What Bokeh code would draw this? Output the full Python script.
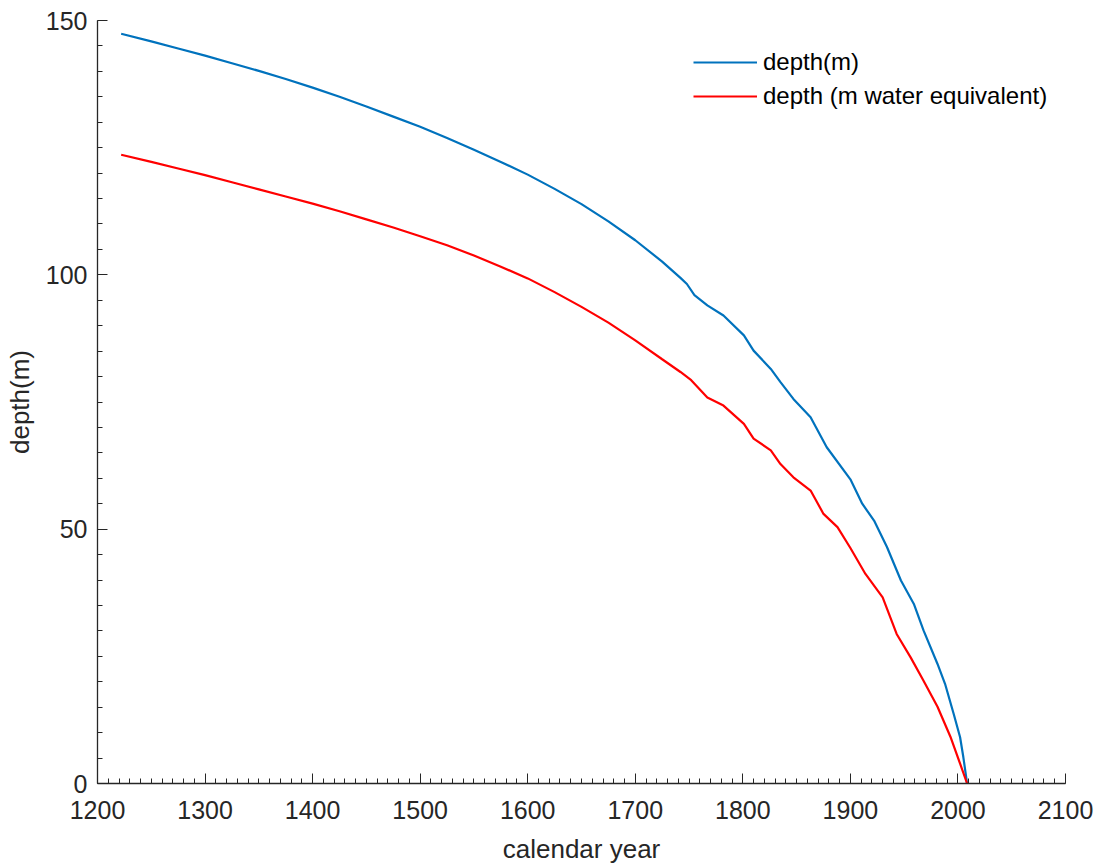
from bokeh.plotting import figure
from bokeh.models import SingleIntervalTicker, Range1d, Legend, LegendItem
from bokeh.embed import file_html
from bokeh.resources import INLINE

# Depth-age relation: ice depth and water-equivalent depth vs calendar year
year_m = [1222, 1250, 1275, 1300, 1325, 1350, 1375, 1400, 1425, 1450, 1475,
          1500, 1525, 1550, 1575, 1600, 1625, 1650, 1675, 1700, 1725, 1742,
          1748, 1755, 1767, 1782, 1801, 1810, 1826, 1835, 1847, 1863, 1878,
          1900, 1911, 1922, 1934, 1947, 1959, 1968, 1981, 1988, 1996, 2002,
          2005, 2008.5]
depth_m = [147.4, 145.9, 144.5, 143.1, 141.6, 140.1, 138.5, 136.8, 135.0,
           133.1, 131.1, 129.1, 126.9, 124.6, 122.2, 119.7, 116.9, 113.9,
           110.5, 106.8, 102.6, 99.4, 98.2, 96.0, 94.0, 92.0, 88.1, 85.1,
           81.5, 78.9, 75.6, 72.0, 66.1, 59.8, 55.0, 51.7, 46.5, 39.9, 35.3,
           30.1, 23.5, 19.6, 13.7, 9.1, 5.2, 0.0]

year_we = [1222, 1250, 1275, 1300, 1325, 1350, 1375, 1400, 1425, 1450, 1475,
           1500, 1525, 1550, 1575, 1600, 1625, 1650, 1675, 1700, 1725, 1742,
           1752, 1767, 1782, 1801, 1810, 1826, 1835, 1847, 1863, 1875, 1888,
           1900, 1914, 1930, 1943, 1956, 1968, 1981, 1993, 2002, 2008.5]
depth_we = [123.6, 122.2, 120.9, 119.6, 118.2, 116.8, 115.4, 114.0, 112.5,
            110.9, 109.3, 107.6, 105.8, 103.8, 101.6, 99.3, 96.6, 93.7, 90.6,
            87.1, 83.4, 80.9, 79.3, 75.9, 74.3, 70.7, 67.8, 65.5, 62.8, 60.2,
            57.6, 53.0, 50.4, 46.3, 41.2, 36.6, 29.4, 24.8, 20.2, 15.1, 9.2,
            3.9, 0.0]

series_labels = ["depth(m)", "depth (m water equivalent)"]

FONT = "Liberation Sans"
AX = "#262626"

p = figure(width=1101, height=867, output_backend="svg", toolbar_location=None,
           x_range=Range1d(1200, 2100), y_range=Range1d(0, 150),
           min_border_left=97, min_border_right=36, min_border_top=20,
           min_border_bottom=84)
p.outline_line_color = None
p.xgrid.grid_line_color = None
p.ygrid.grid_line_color = None

r1 = p.line(year_m, depth_m, line_color="#0072BD", line_width=2.2)
r2 = p.line(year_we, depth_we, line_color="#FF0000", line_width=2.2)

p.xaxis.ticker = SingleIntervalTicker(interval=100, num_minor_ticks=10)
p.yaxis.ticker = SingleIntervalTicker(interval=50, num_minor_ticks=10)
p.xaxis.axis_label = "calendar year"
p.yaxis.axis_label = "depth(m)"

for ax in (p.xaxis[0], p.yaxis[0]):
    ax.axis_line_color = AX
    ax.axis_line_width = 1.3
    ax.major_tick_line_color = AX
    ax.minor_tick_line_color = AX
    ax.major_tick_in = 10
    ax.major_tick_out = 0
    ax.minor_tick_in = 5
    ax.minor_tick_out = 0
    ax.major_label_text_font = FONT
    ax.major_label_text_font_size = "25px"
    ax.major_label_text_color = AX
    ax.axis_label_text_font = FONT
    ax.axis_label_text_font_size = "26px"
    ax.axis_label_text_font_style = "normal"
    ax.axis_label_text_color = AX

p.xaxis.major_label_standoff = 17
p.xaxis.axis_label_standoff = 12
p.yaxis.major_label_standoff = 10
p.yaxis.axis_label_standoff = 8

legend = Legend(items=[LegendItem(label=series_labels[0], renderers=[r1]),
                       LegendItem(label=series_labels[1], renderers=[r2])],
                location=(596, 670), padding=0, margin=0, spacing=0,
                glyph_width=64, glyph_height=34, label_height=34,
                label_standoff=6, border_line_color=None,
                background_fill_alpha=0,
                label_text_font=FONT, label_text_font_size="24px",
                label_text_color="#000000")
p.add_layout(legend, "center")

open("out.html", "w").write(file_html(p, INLINE))
